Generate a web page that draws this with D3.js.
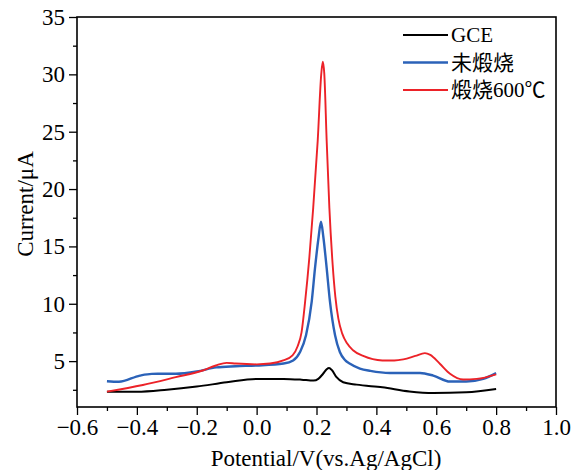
<!DOCTYPE html>
<html>
<head>
<meta charset="utf-8">
<script src="https://cdn.jsdelivr.net/npm/d3@7"></script>
<style>
  html, body { margin: 0; padding: 0; background: #fff; }
  svg { display: block; }
  text { font-family: "Liberation Serif", "Noto Sans CJK SC", serif; fill: #000; }
</style>
</head>
<body>
<svg id="chart" width="584" height="470"></svg>
<script>
// Differential pulse voltammograms: potential (V vs. Ag/AgCl) against current (μA)

// GCE (bare electrode)
const gcePotential = [-0.5, -0.4, -0.3, -0.2, -0.1, 0.0, 0.09, 0.15, 0.19, 0.206, 0.222, 0.234, 0.242, 0.252, 0.267, 0.289, 0.334, 0.42, 0.51, 0.59, 0.7, 0.8];
const gceCurrent   = [2.32, 2.32, 2.5, 2.78, 3.15, 3.45, 3.45, 3.38, 3.3, 3.45, 3.9, 4.3, 4.41, 4.2, 3.6, 3.16, 2.95, 2.72, 2.36, 2.22, 2.28, 2.57];

// 未煅烧 (uncalcined)
const rawPotential = [-0.5, -0.46, -0.39, -0.35, -0.27, -0.2, -0.135, -0.07, 0.0, 0.09, 0.122, 0.145, 0.165, 0.184, 0.195, 0.207, 0.215, 0.223, 0.234, 0.245, 0.262, 0.278, 0.295, 0.312, 0.345, 0.38, 0.445, 0.5, 0.546, 0.59, 0.646, 0.7, 0.757, 0.8];
const rawCurrent   = [3.25, 3.2, 3.74, 3.89, 3.9, 4.1, 4.45, 4.55, 4.62, 4.79, 5.06, 5.8, 7.25, 10.18, 13.1, 15.8, 17.15, 15.8, 13.1, 10.18, 7.25, 5.8, 5.1, 4.77, 4.35, 4.15, 3.97, 3.97, 3.97, 3.74, 3.22, 3.22, 3.45, 3.95];

// 煅烧600℃ (calcined at 600 ℃)
const calPotential = [-0.5, -0.38, -0.27, -0.18, -0.136, -0.1, -0.07, 0.0, 0.045, 0.089, 0.12, 0.137, 0.15, 0.162, 0.176, 0.189, 0.204, 0.216, 0.221, 0.226, 0.234, 0.243, 0.254, 0.263, 0.273, 0.286, 0.302, 0.322, 0.356, 0.42, 0.46, 0.49, 0.53, 0.562, 0.58, 0.612, 0.646, 0.69, 0.735, 0.8];
const calCurrent   = [2.34, 2.92, 3.6, 4.18, 4.62, 4.85, 4.79, 4.72, 4.79, 5.06, 5.5, 6.3, 7.5, 10.18, 14.0, 18.36, 24.2, 30.06, 31.1, 30.06, 24.2, 18.36, 13.4, 10.6, 8.7, 7.4, 6.55, 5.95, 5.45, 5.06, 5.05, 5.15, 5.45, 5.7, 5.55, 4.77, 3.9, 3.4, 3.45, 3.85];

const seriesNames  = ["GCE", "未煅烧", "煅烧600℃"];
const seriesColors = ["#000000", "#2b62b8", "#ec2228"];

const xTicks = [-0.6, -0.4, -0.2, 0.0, 0.2, 0.4, 0.6, 0.8, 1.0];
const yTicks = [5, 10, 15, 20, 25, 30, 35];

const series = [
  { name: seriesNames[0], color: seriesColors[0], width: 2.0, pts: gcePotential.map((v, i) => [v, gceCurrent[i]]) },
  { name: seriesNames[1], color: seriesColors[1], width: 2.4, pts: rawPotential.map((v, i) => [v, rawCurrent[i]]) },
  { name: seriesNames[2], color: seriesColors[2], width: 1.9, pts: calPotential.map((v, i) => [v, calCurrent[i]]) }
];

const W = 584, H = 470;
const margin = { left: 77, right: 28, top: 17, bottom: 63 };
const svg = d3.select("#chart");

const x = d3.scaleLinear().domain([-0.6, 1.0]).range([margin.left, W - margin.right]);
const y = d3.scaleLinear().domain([1, 35]).range([H - margin.bottom, margin.top]);

const fmtX = v => (v < 0 ? "\u2212" : "") + Math.abs(v).toFixed(1);

// minor ticks (unlabelled)
const xMinor = d3.range(-0.5, 1.0, 0.2).map(v => +v.toFixed(2));
const yMinor = d3.range(2.5, 35, 5);

const gx = svg.append("g").attr("transform", `translate(0,${H - margin.bottom})`);
gx.call(d3.axisBottom(x).tickValues(xMinor).tickSize(4).tickFormat(""));
gx.append("g").call(d3.axisBottom(x).tickValues(xTicks).tickSize(8).tickPadding(4).tickFormat(fmtX));

const gy = svg.append("g").attr("transform", `translate(${margin.left},0)`);
gy.call(d3.axisLeft(y).tickValues(yMinor).tickSize(4).tickFormat(""));
gy.append("g").call(d3.axisLeft(y).tickValues(yTicks).tickSize(8).tickPadding(4).tickFormat(d3.format("d")));

svg.selectAll(".domain").remove();
svg.selectAll(".tick line").attr("stroke", "#000").attr("stroke-width", 1.3);
svg.selectAll(".tick text").style("font-size", "23px").attr("fill", "#000");

// frame
svg.append("rect")
  .attr("x", margin.left).attr("y", margin.top)
  .attr("width", W - margin.left - margin.right)
  .attr("height", H - margin.top - margin.bottom)
  .attr("fill", "none").attr("stroke", "#000").attr("stroke-width", 1.6);

// curves
const line = d3.line().x(d => x(d[0])).y(d => y(d[1])).curve(d3.curveMonotoneX);
svg.append("g").selectAll("path").data(series).join("path")
  .attr("d", d => line(d.pts))
  .attr("fill", "none")
  .attr("stroke", d => d.color)
  .attr("stroke-width", d => d.width)
  .attr("stroke-linejoin", "round");

// axis titles
svg.append("text")
  .attr("x", 326)
  .attr("y", 466)
  .attr("text-anchor", "middle")
  .style("font-size", "23px")
  .text("Potential/V(vs.Ag/AgCl)");

svg.append("text")
  .attr("transform", "translate(33,204) rotate(-90)")
  .attr("text-anchor", "middle")
  .style("font-size", "23px")
  .text("Current/μA");

// legend
const legend = svg.append("g").attr("transform", "translate(403,35)");
const rows = legend.selectAll("g").data(series).join("g")
  .attr("transform", (d, i) => `translate(0,${i * 27.5})`);
rows.append("line")
  .attr("x1", 0).attr("x2", 45).attr("y1", 0).attr("y2", 0)
  .attr("stroke", d => d.color).attr("stroke-width", d => d.width);
rows.append("text")
  .attr("x", 48).attr("y", 7)
  .style("font-size", "21px")
  .text(d => d.name);
</script>
</body>
</html>
